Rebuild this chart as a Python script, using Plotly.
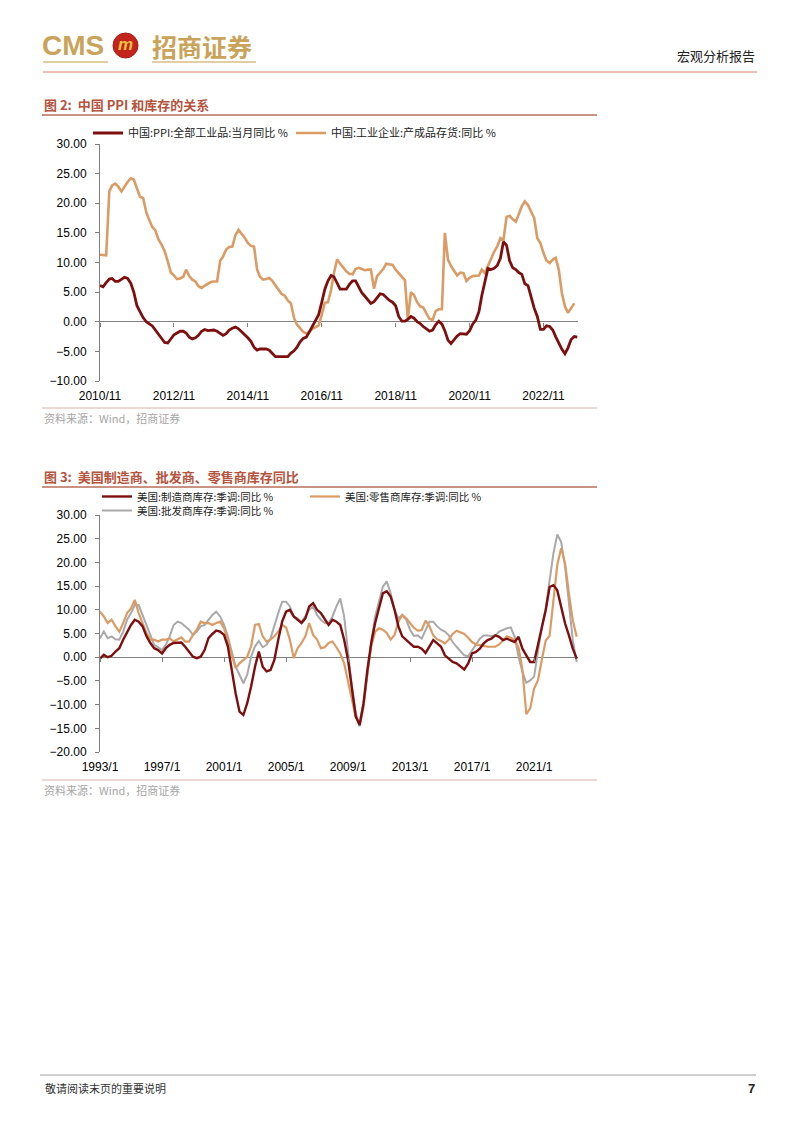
import plotly.graph_objects as go
import pandas as pd

# ---------------- data ----------------
# Chart 1: monthly, starting 2010-11
cn_start = "2010-11-01"
ppi_yoy = [
    6.1, 5.9,
    6.6, 7.2, 7.3, 6.8, 6.8, 7.1, 7.5, 7.3, 6.5, 5.0, 2.7, 1.7,
    0.7, 0.0, -0.3, -0.7, -1.4, -2.1, -2.9, -3.5, -3.6, -2.8, -2.2, -1.9,
    -1.6, -1.6, -1.9, -2.6, -2.9, -2.7, -2.3, -1.6, -1.3, -1.5, -1.4, -1.4,
    -1.6, -2.0, -2.3, -2.0, -1.4, -1.1, -0.9, -1.2, -1.8, -2.2, -2.7, -3.3,
    -4.3, -4.8, -4.6, -4.6, -4.6, -4.8, -5.4, -5.9, -5.9, -5.9, -5.9, -5.9,
    -5.3, -4.9, -4.3, -3.4, -2.8, -2.6, -1.7, -0.8, 0.1, 1.2, 3.3, 5.5,
    6.9, 7.8, 7.6, 6.4, 5.5, 5.5, 5.5, 6.3, 6.9, 6.9, 5.8, 4.9,
    4.3, 3.7, 3.1, 3.4, 4.1, 4.7, 4.6, 4.1, 3.6, 3.3, 2.7, 0.9,
    0.1, 0.1, 0.4, 0.9, 0.6, 0.0, -0.3, -0.8, -1.2, -1.6, -1.4, -0.5,
    0.1, -0.4, -1.5, -3.1, -3.7, -3.0, -2.4, -2.0, -2.1, -2.1, -1.5, -0.4,
    0.3, 1.7, 4.4, 6.8, 9.0, 8.8, 9.0, 9.5, 10.7, 13.5, 12.9, 10.3,
    9.1, 8.8, 8.3, 8.0, 6.4, 6.1, 4.2, 2.3, 0.9, -1.3, -1.3, -0.7,
    -0.8, -1.4, -2.5, -3.6, -4.6, -5.4, -4.4, -3.0, -2.5, -2.6,
]
inv_yoy = [
    11.3, 11.3,
    11.2, 22.0, 23.0, 23.3, 22.8, 22.0, 22.8, 23.6, 24.2, 24.0, 22.5, 21.1,
    20.9, 18.5, 17.2, 16.0, 15.4, 13.9, 13.0, 11.9, 10.2, 8.3, 7.8, 7.2,
    7.3, 7.6, 8.8, 7.7, 7.1, 6.8, 6.0, 5.7, 6.1, 6.4, 6.7, 6.8,
    6.8, 10.3, 11.0, 12.2, 12.6, 12.7, 14.6, 15.5, 14.9, 14.2, 13.3, 12.8,
    12.7, 8.8, 7.6, 7.1, 7.2, 7.4, 6.9, 6.2, 5.4, 4.7, 4.4, 3.6,
    3.1, 0.6, -0.5, -1.2, -1.7, -2.0, -1.7, -1.2, -0.9, -0.6, 1.2, 3.2,
    3.3, 5.4, 8.2, 10.5, 9.8, 9.2, 8.5, 8.1, 8.0, 8.9, 9.1, 8.9,
    8.7, 8.8, 8.8, 5.6, 7.7, 8.3, 8.9, 9.8, 9.7, 9.6, 8.8, 8.2,
    7.5, 7.0, 0.4, 5.0, 4.5, 3.3, 2.6, 2.4, 1.4, 0.5, 0.3, 1.8,
    2.1, 2.1, 15.0, 10.5, 9.4, 8.5, 7.8, 8.3, 8.2, 6.9, 7.4, 7.7,
    7.7, 7.8, 8.8, 8.2, 9.4, 10.8, 11.8, 12.7, 14.1, 13.8, 17.7, 17.9,
    17.3, 16.9, 18.3, 19.5, 20.3, 19.7, 18.6, 17.5, 14.1, 13.3, 11.6, 10.3,
    9.9, 10.5, 10.8, 8.8, 4.9, 2.6, 1.5, 2.2, 3.1,
]
cn_tickvals = ["2010-11-01", "2012-11-01", "2014-11-01", "2016-11-01",
               "2018-11-01", "2020-11-01", "2022-11-01"]
cn_ticktext = ["2010/11", "2012/11", "2014/11", "2016/11", "2018/11", "2020/11", "2022/11"]

# Chart 2: quarterly readings, starting 1993-01
us_start = "1993-01-01"
us_mfg = [
    -0.3, 0.5, 0.0, 0.3, 1.2, 1.9, 3.7, 5.4, 6.8, 7.9, 7.5, 6.5,
    4.4, 3.0, 1.9, 1.5, 0.8, 1.9, 2.6, 3.0, 3.0, 3.1, 2.2, 1.2,
    0.1, -0.2, 0.1, 1.5, 4.0, 4.9, 5.6, 5.4, 4.7, 2.3, -2.7, -7.6,
    -11.5, -12.2, -9.7, -6.2, -2.0, 1.2, -2.0, -3.0, -2.7, -0.6, 3.7, 7.5,
    9.6, 10.0, 8.6, 7.9, 7.2, 8.2, 10.7, 11.4, 10.0, 9.3, 7.9, 6.8,
    7.9, 7.5, 6.8, 3.7, -0.6, -6.9, -12.5, -14.3, -9.7, -2.7, 3.0, 7.2,
    10.7, 13.5, 13.9, 12.8, 10.0, 6.5, 4.4, 3.7, 2.8, 2.2, 2.2, 1.8,
    0.9, 2.2, 3.6, 2.9, 2.2, 0.4, -0.3, -1.0, -1.3, -2.0, -2.6, -1.3,
    0.8, 1.1, 1.8, 2.9, 3.6, 3.9, 4.6, 4.3, 3.6, 3.9, 3.6, 3.2,
    4.3, 1.8, 0.4, -1.0, -1.0, 2.5, 5.7, 9.9, 14.8, 15.2, 14.1, 10.6,
    7.1, 4.6, 1.8, -0.3,
]
us_retail = [
    9.6, 8.6, 7.2, 7.9, 6.5, 5.4, 7.2, 9.3, 10.3, 12.1, 9.3, 7.2,
    5.1, 3.7, 3.7, 3.3, 3.7, 3.7, 4.0, 3.3, 3.7, 4.2, 3.3, 3.3,
    4.7, 5.8, 7.5, 7.2, 7.2, 6.8, 7.2, 7.5, 6.1, 3.7, 0.5, -2.3,
    -1.3, -0.6, 0.1, 2.3, 6.8, 7.0, 4.4, 3.3, 3.7, 4.4, 5.4, 6.8,
    6.3, 3.7, -0.2, 1.9, 3.0, 4.4, 7.2, 4.7, 3.7, 1.9, 2.1, 3.0,
    3.3, 2.1, 0.8, -1.3, -4.9, -9.1, -12.7, -13.9, -9.7, -3.4, 2.3, 5.4,
    6.1, 5.8, 5.1, 3.7, 4.7, 7.5, 8.9, 8.2, 7.2, 6.2, 5.6, 5.7,
    7.7, 6.5, 4.6, 3.8, 3.4, 2.9, 3.7, 4.9, 5.6, 5.3, 4.9, 4.1,
    3.2, 2.7, 2.6, 2.4, 2.2, 2.2, 2.2, 2.7, 3.6, 4.4, 4.1, 3.6,
    2.0, -2.7, -12.0, -10.8, -6.6, -4.9, -0.6, 3.5, 4.5, 11.5, 19.5, 23.0,
    19.8, 13.4, 7.8, 4.3,
]
us_wholesale = [
    4.0, 5.4, 4.0, 4.4, 3.8, 3.7, 5.4, 7.9, 9.3, 11.0, 11.0, 8.9,
    6.5, 4.4, 2.6, 2.1, 1.5, 2.6, 4.4, 6.8, 7.5, 7.2, 6.5, 5.8,
    4.7, 5.4, 6.5, 6.8, 7.9, 8.9, 9.6, 8.6, 6.8, 4.4, 1.2, -2.0,
    -3.7, -5.5, -3.7, 0.1, 2.3, 3.4, 2.1, 2.6, 4.0, 6.8, 9.3, 11.7,
    11.7, 10.7, 8.6, 8.2, 7.5, 8.6, 10.0, 10.7, 8.9, 7.9, 7.2, 7.2,
    8.6, 10.7, 12.4, 8.6, 0.8, -6.2, -11.8, -14.6, -10.7, -3.4, 3.3, 8.6,
    12.1, 14.9, 16.0, 13.5, 10.0, 8.2, 8.9, 7.9, 5.8, 4.5, 4.6, 3.9,
    5.7, 7.5, 7.5, 6.5, 5.8, 5.4, 4.6, 3.2, 2.2, 1.3, 0.4, 0.2,
    1.5, 2.7, 3.9, 4.6, 4.6, 4.4, 4.6, 5.4, 5.8, 6.1, 6.3, 4.3,
    0.1, -3.1, -5.4, -4.9, -4.1, 1.1, 6.4, 10.3, 16.2, 21.9, 25.9, 24.3,
    19.1, 10.6, 3.6, -1.0,
]
us_tickvals = ["1993-01-01", "1997-01-01", "2001-01-01", "2005-01-01", "2009-01-01",
               "2013-01-01", "2017-01-01", "2021-01-01"]
us_ticktext = ["1993/1", "1997/1", "2001/1", "2005/1", "2009/1", "2013/1", "2017/1", "2021/1"]

cn_ppi_dates = pd.date_range(cn_start, periods=len(ppi_yoy), freq="MS")
cn_inv_dates = pd.date_range(cn_start, periods=len(inv_yoy), freq="MS")
us_dates = pd.date_range(us_start, periods=len(us_mfg), freq="QS")

# ---------------- styling ----------------
W, H = 802, 1133
def px(x):
    return x / W
def py(y):
    return 1 - y / H

FONT = "Liberation Sans, Arial, Noto Sans CJK SC, sans-serif"
CJK = "Noto Sans CJK SC, sans-serif"
DARK_RED = "#7E0F0F"
TAN = "#DB9B64"
GRAY = "#A9A9A9"
AXIS = "#7F7F7F"

fig = go.Figure()

# Chart 1 traces
fig.add_trace(go.Scatter(x=cn_inv_dates, y=inv_yoy, mode="lines",
                         name="中国:工业企业:产成品存货:同比 %",
                         line=dict(color=TAN, width=2.6), xaxis="x", yaxis="y",
                         legend="legend2"))
fig.add_trace(go.Scatter(x=cn_ppi_dates, y=ppi_yoy, mode="lines",
                         name="中国:PPI:全部工业品:当月同比 %",
                         line=dict(color=DARK_RED, width=2.8), xaxis="x", yaxis="y",
                         legend="legend"))
# helper for tick marks on zero line (chart 1)
fig.add_trace(go.Scatter(x=cn_tickvals, y=[None] * len(cn_tickvals), mode="lines",
                         showlegend=False, hoverinfo="skip", xaxis="x3", yaxis="y"))

# Chart 2 traces
fig.add_trace(go.Scatter(x=us_dates, y=us_wholesale, mode="lines",
                         name="美国:批发商库存:季调:同比 %",
                         line=dict(color=GRAY, width=2.0), xaxis="x2", yaxis="y2",
                         legend="legend5"))
fig.add_trace(go.Scatter(x=us_dates, y=us_retail, mode="lines",
                         name="美国:零售商库存:季调:同比 %",
                         line=dict(color=TAN, width=2.2), xaxis="x2", yaxis="y2",
                         legend="legend4"))
fig.add_trace(go.Scatter(x=us_dates, y=us_mfg, mode="lines",
                         name="美国:制造商库存:季调:同比 %",
                         line=dict(color=DARK_RED, width=2.4), xaxis="x2", yaxis="y2",
                         legend="legend3"))
fig.add_trace(go.Scatter(x=us_tickvals, y=[None] * len(us_tickvals), mode="lines",
                         showlegend=False, hoverinfo="skip", xaxis="x4", yaxis="y2"))

c1_top, c1_bot = 144, 381
c2_top, c2_bot = 515, 752
c1_zero = c1_top + (30 / 40) * (c1_bot - c1_top)
c2_zero = c2_top + (30 / 50) * (c2_bot - c2_top)

yaxis_common = dict(showline=True, linecolor=AXIS, linewidth=1, ticks="outside",
                    ticklen=4, tickcolor=AXIS, showgrid=False, zeroline=True,
                    zerolinecolor=AXIS, zerolinewidth=1, dtick=5, tickformat=".2f",
                    tickfont=dict(size=12, color="#000", family=FONT),
                    ticklabelstandoff=6, fixedrange=True, automargin=False)
xaxis_common = dict(showline=False, showgrid=False, zeroline=False, ticks="outside",
                    ticklen=4, tickcolor="rgba(0,0,0,0)", automargin=False,
                    tickfont=dict(size=12, color="#000", family=FONT))
tickaxis_common = dict(showline=False, showgrid=False, zeroline=False, ticks="outside",
                       ticklen=4, tickcolor=AXIS, showticklabels=False, anchor="free",
                       automargin=False)

fig.update_layout(
    width=W, height=H, margin=dict(l=0, r=0, t=0, b=0, pad=0, autoexpand=False),
    paper_bgcolor="white", plot_bgcolor="white",
    font=dict(family=FONT, color="#222"),
    xaxis=dict(domain=[px(100), px(578)], anchor="y",
               range=["2010-11-01", "2023-10-08"],
               tickvals=cn_tickvals, ticktext=cn_ticktext, **xaxis_common),
    yaxis=dict(domain=[py(c1_bot), py(c1_top)], anchor="x", range=[-10, 30], **yaxis_common),
    xaxis3=dict(overlaying="x", matches="x", position=py(c1_zero),
                tickvals=cn_tickvals, **tickaxis_common),
    xaxis2=dict(domain=[px(100), px(578)], anchor="y2",
                range=["1993-01-01", "2023-11-01"],
                tickvals=us_tickvals, ticktext=us_ticktext, **xaxis_common),
    yaxis2=dict(domain=[py(c2_bot), py(c2_top)], anchor="x2", range=[-20, 30], **yaxis_common),
    xaxis4=dict(overlaying="x2", matches="x2", position=py(c2_zero),
                tickvals=us_tickvals, **tickaxis_common),
    showlegend=True,
)

leg = dict(orientation="h", xanchor="left", yanchor="middle",
           bgcolor="rgba(0,0,0,0)", borderwidth=0,
           font=dict(size=11, color="#222", family=CJK), itemwidth=30)
leg2 = dict(leg, font=dict(size=10.5, color="#222", family=CJK))
fig.update_layout(
    legend=dict(x=px(88), y=py(133), **leg),
    legend2=dict(x=px(291), y=py(133), **leg),
    legend3=dict(x=px(97), y=py(496.5), **leg2),
    legend4=dict(x=px(305), y=py(496.5), **leg2),
    legend5=dict(x=px(97), y=py(510.5), **leg2),
)

shapes = []
annotations = []

def hline(x0, x1, y, color, width=1):
    shapes.append(dict(type="line", xref="paper", yref="paper",
                       x0=px(x0), x1=px(x1), y0=py(y), y1=py(y),
                       line=dict(color=color, width=width)))

def text(x, y, s, size, color, xanchor="left", family=CJK):
    annotations.append(dict(x=px(x), y=py(y), xref="paper", yref="paper", text=s,
                            showarrow=False, xanchor=xanchor, yanchor="middle",
                            font=dict(size=size, color=color, family=family)))

# Header
GOLD = "#C9A35A"
text(40, 46, "<b>CMS</b>", 28, GOLD, family=FONT)
shapes.append(dict(type="circle", xref="paper", yref="paper",
                   x0=px(113), x1=px(138), y0=py(58), y1=py(33),
                   fillcolor="#C3241B", line=dict(color="#A81A12", width=1)))
text(125.5, 45, "<b><i>m</i></b>", 17, "#F4C244", xanchor="center", family=FONT)
text(150, 46, "<b>招商证券</b>", 25, GOLD)
hline(43, 108, 62, "#D8BE86", 1.5)
hline(152, 256, 62, "#D8BE86", 1.5)
hline(43, 757, 72, "#D9826F", 1)
text(757, 56, "宏观分析报告", 13, "#222", xanchor="right")

# Chart 1 frame
TITLE_C = "#B5533C"
text(42, 104, "<b>图 2:  中国 PPI 和库存的关系</b>", 13, TITLE_C)
hline(42, 597, 115, "#B86E5A", 1.5)
hline(42, 597, 408, "#D3B4A6", 1)
text(42, 418, "资料来源：Wind，招商证券", 11, "#A6A6A6")

# Chart 2 frame
text(42, 476, "<b>图 3:  美国制造商、批发商、零售商库存同比</b>", 13, TITLE_C)
hline(42, 597, 487, "#B86E5A", 1.5)
hline(42, 597, 780, "#D3B4A6", 1)
text(42, 790, "资料来源：Wind，招商证券", 11, "#A6A6A6")

# Footer
hline(40, 756, 1075, "#A0A0A0", 1)
text(43, 1088, "敬请阅读末页的重要说明", 11, "#333")
text(757, 1088, "<b>7</b>", 13, "#222", xanchor="right", family=FONT)

fig.update_layout(shapes=shapes, annotations=annotations)

fig.write_html("out.html", config={"displayModeBar": False},
               post_script="document.body.style.margin='0';document.body.style.overflow='hidden';")
